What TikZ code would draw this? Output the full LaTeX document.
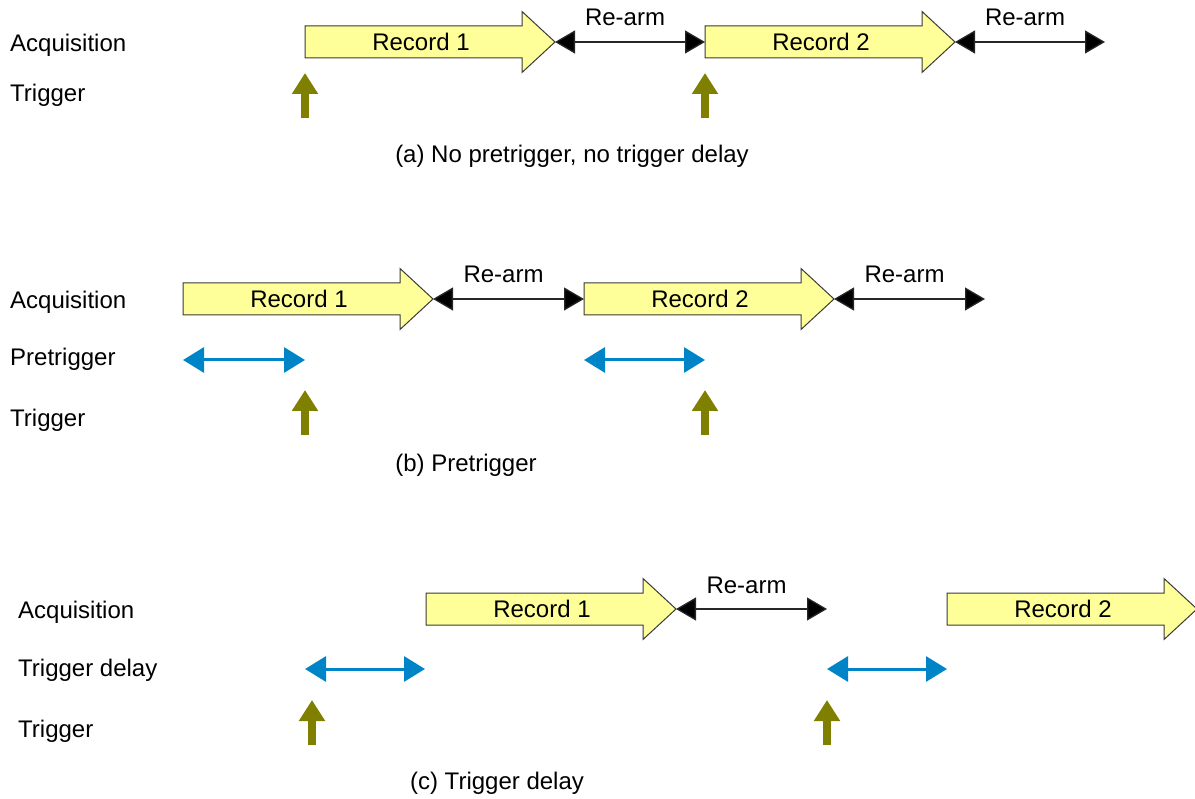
\documentclass[tikz,border=0pt]{standalone}
\usepackage{fontspec}
\setmainfont{Liberation Sans}
\usetikzlibrary{arrows.meta,calc}

\definecolor{recfill}{HTML}{FFFF99}
\definecolor{recline}{HTML}{3A3A3A}
\definecolor{trigcol}{HTML}{808000}
\definecolor{pretcol}{HTML}{0084C8}

\tikzset{
  txt/.style={anchor=base, inner sep=0pt, font=\fontsize{24}{28}\selectfont},
  lefttxt/.style={txt, anchor=base west},
  recbox/.style={draw=recline, fill=recfill, line width=1pt, line join=miter},
  rearm/.style={draw=black!85, line width=1.3pt,
    {Triangle[length=20pt,width=23pt,fill=black]}-{Triangle[length=20pt,width=23pt,fill=black]}},
  pret/.style={draw=pretcol, line width=3pt,
    {Triangle[length=21pt,width=25pt]}-{Triangle[length=21pt,width=25pt]}},
  trig/.style={draw=trigcol, line width=7.5pt,
    -{Triangle[length=21pt,width=25pt]}},
}

% Record block: name, tail x, centre y, text
\newcommand\recarrow[4]{%
  \coordinate (#1-tail) at (#2,#3);
  \coordinate (#1-tip) at ($(#1-tail)+(250,0)$);
  \draw[recbox] (#1-tail) ++(0,-16) -- ++(217,0) -- ++(0,-14.5) -- (#1-tip)
    -- ++(-33,30.5) -- ++(0,-14.5) -- ++(-217,0) -- cycle;
  \node[txt] (#1-lbl) at ($(#1-tail)+(116,8.5)$) {#4};
}
% Trigger arrow: name, x, bottom y
\newcommand\trigarrow[3]{%
  \coordinate (#1-b) at (#2,#3);
  \coordinate (#1-t) at ($(#1-b)+(0,-45)$);
  \draw[trig] (#1-b) -- (#1-t);
}
% Re-arm span between two named points, label above
\newcommand\rearmspan[3]{%
  \draw[rearm] (#2) -- (#3);
  \node[txt] (#1) at ($(#2)!0.5!(#3)+(-5,-16)$) {Re-arm};
}

\begin{document}
\begin{tikzpicture}[x=1pt,y=-1pt]
\useasboundingbox (0,0) rectangle (1195,799);

% ---------------- (a) no pretrigger, no trigger delay
\node[lefttxt] (aacq) at (10,52) {Acquisition};
\node[lefttxt] (atrg) at (10,102) {Trigger};
\recarrow{ar1}{305}{42}{Record 1}
\recarrow{ar2}{705}{42}{Record 2}
\coordinate (aend) at (1105,42);
\rearmspan{ara1}{ar1-tip}{ar2-tail}
\rearmspan{ara2}{ar2-tip}{aend}
\trigarrow{at1}{305}{118}
\trigarrow{at2}{705}{118}
\node[txt] (capa) at (572,163) {(a) No pretrigger, no trigger delay};

% ---------------- (b) pretrigger
\node[lefttxt] (bacq) at (10,309) {Acquisition};
\node[lefttxt] (bpre) at (10,366) {Pretrigger};
\node[lefttxt] (btrg) at (10,427) {Trigger};
\recarrow{br1}{183}{299}{Record 1}
\recarrow{br2}{584}{299}{Record 2}
\coordinate (bend) at (985,299);
\rearmspan{bra1}{br1-tip}{br2-tail}
\rearmspan{bra2}{br2-tip}{bend}
\coordinate (bp1a) at (183,360);
\coordinate (bp1b) at (305,360);
\coordinate (bp2a) at (584,360);
\coordinate (bp2b) at (705,360);
\draw[pret] (bp1a) -- (bp1b);
\draw[pret] (bp2a) -- (bp2b);
\trigarrow{bt1}{305}{435}
\trigarrow{bt2}{705}{435}
\node[txt] (capb) at (466,472) {(b) Pretrigger};

% ---------------- (c) trigger delay
\node[lefttxt] (cacq) at (18,618.5) {Acquisition};
\node[lefttxt] (cdel) at (18,676.5) {Trigger delay};
\node[lefttxt] (ctrg) at (18,737.5) {Trigger};
\recarrow{cr1}{426}{609}{Record 1}
\recarrow{cr2}{947}{609}{Record 2}
\coordinate (cend) at (827,609);
\rearmspan{cra1}{cr1-tip}{cend}
\coordinate (cd1a) at (305,669);
\coordinate (cd1b) at (425,669);
\coordinate (cd2a) at (827,669);
\coordinate (cd2b) at (947,669);
\draw[pret] (cd1a) -- (cd1b);
\draw[pret] (cd2a) -- (cd2b);
\trigarrow{ct1}{312}{745}
\trigarrow{ct2}{827}{745}
\node[txt] (capc) at (497,789) {(c) Trigger delay};
\end{tikzpicture}
\end{document}
